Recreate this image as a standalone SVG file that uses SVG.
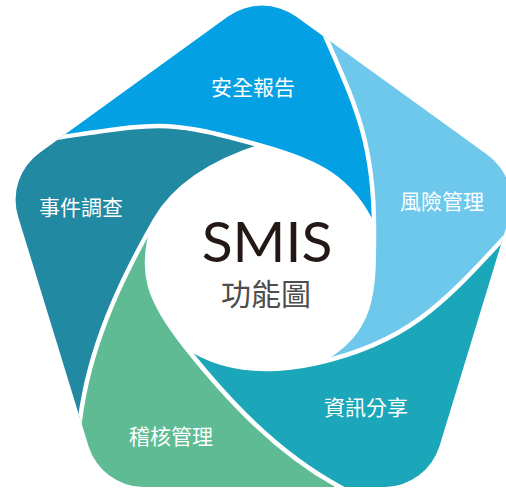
<svg xmlns="http://www.w3.org/2000/svg" width="506" height="489" viewBox="0 0 506 489">
  <defs>
    <clipPath id="penta">
      <path d="M228,16.6 A58,58 0 0 1 296,16.6 L487,154.4 A58,58 0 0 1 508.7,219.2 L439.3,446.8 A58,58 0 0 1 385,487 L143,487 A58,58 0 0 1 88.7,446.8 L18.3,217.2 A58,58 0 0 1 40,152.4 Z"/>
    </clipPath>
    <style>
      .lbl { font-family: "Noto Sans CJK TC", "Noto Sans CJK SC", sans-serif; font-size: 21px; fill: #ffffff; text-anchor: middle; }
      .sep { fill: none; stroke: #ffffff; stroke-width: 4.5; }
    </style>
  </defs>
  <rect width="506" height="489" fill="#ffffff"/>
  <g clip-path="url(#penta)">
    <g id="node-safety-report">
      <path fill="#04A0E4" d="M62,137 L22.4,142.8 L100,-50 L420,-50 L311,3.4 L327,40 C355,104 374,143 374,228 C351.6,176.9 315,160.9 262,146 C165.7,119 160.9,122.5 62,137 Z"/>
    </g>
    <g id="node-risk-management">
      <path fill="#6DC8EC" d="M327,40 L311,3.4 L420,-50 L620,100 L620,230 L529,210.6 L502,240 C441.1,306.2 404.8,343.2 317,363 C374.7,332.1 374,293 374,228 C374,143 355,104 327,40 Z"/>
    </g>
    <g id="node-info-sharing">
      <path fill="#1BA7B9" d="M502,240 L529,210.6 L620,230 L620,600 L300,600 L375,506 L340,487 C277.5,453.3 228,400.7 184,345 C222.5,371.8 271.1,373.3 317,363 C404.8,343.2 441.1,306.2 502,240 Z"/>
    </g>
    <g id="node-audit-management">
      <path fill="#5EBB94" d="M340,487 L375,506 L300,600 L-50,600 L-50,460 L75,460 L80,420 C88.9,348.6 119,282.4 155,220 C136.9,271.7 149.9,301.8 184,345 C228,400.7 277.5,453.3 340,487 Z"/>
    </g>
    <g id="node-incident-investigation">
      <path fill="#2289A3" d="M80,420 L75,460 L-50,460 L-50,100 L22.4,142.8 L62,137 C160.9,122.5 165.7,119 262,146 C219.3,159.5 177.5,181 155,220 C119,282.4 88.9,348.6 80,420 Z"/>
    </g>
    <g id="separators">
      <path class="sep" d="M374,228 C351.6,176.9 315,160.9 262,146 C165.7,119 160.9,122.5 62,137 L22.4,142.8"/>
      <path class="sep" d="M317,363 C374.7,332.1 374,293 374,228 C374,143 355,104 327,40 L311,3.4"/>
      <path class="sep" d="M184,345 C222.5,371.8 271.1,373.3 317,363 C404.8,343.2 441.1,306.2 502,240 L529,210.6"/>
      <path class="sep" d="M155,220 C136.9,271.7 149.9,301.8 184,345 C228,400.7 277.5,453.3 340,487 L375,506"/>
      <path class="sep" d="M262,146 C219.3,159.5 177.5,181 155,220 C119,282.4 88.9,348.6 80,420 L75,460"/>
    </g>
  </g>
  <g id="labels">
    <text class="lbl" x="253" y="95">安全報告</text>
    <text class="lbl" x="442" y="209">風險管理</text>
    <text class="lbl" x="81" y="215">事件調查</text>
    <text class="lbl" x="366" y="415">資訊分享</text>
    <text class="lbl" x="171" y="444">稽核管理</text>
  </g>
  <g id="node-center">
    <text x="267" y="262" font-family="Lato, 'Noto Sans', sans-serif" font-size="57" fill="#231815" text-anchor="middle">SMIS</text>
    <text x="266" y="305" font-family="'Noto Sans CJK TC', 'Noto Sans CJK SC', sans-serif" font-size="30" fill="#4d4d4d" text-anchor="middle">功能圖</text>
  </g>
</svg>
